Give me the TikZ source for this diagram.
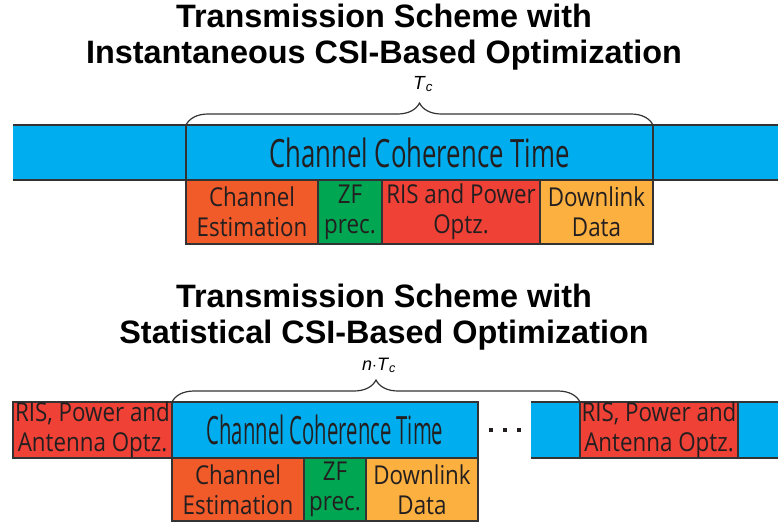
\documentclass[tikz,border=0pt]{standalone}
\usepackage{fontspec}
\setmainfont{Liberation Sans}
\newfontfamily\boxfont[FakeStretch=0.86]{Open Sans}
\newfontfamily\ctfontA[FakeStretch=0.66]{Open Sans}
\newfontfamily\ctfontB[FakeStretch=0.52]{Open Sans}
\usetikzlibrary{positioning,decorations.pathreplacing}
\definecolor{barblue}{HTML}{00AEEF}
\definecolor{estorange}{HTML}{F15A29}
\definecolor{zfgreen}{HTML}{00A651}
\definecolor{optred}{HTML}{EF4136}
\definecolor{dlyellow}{HTML}{FBB040}
\definecolor{txtgray}{HTML}{231F20}
\definecolor{edgegray}{HTML}{333333}

\begin{document}
\begin{tikzpicture}[x=1pt,y=-1pt,
  tbox/.style={draw=edgegray,line width=1.2pt,inner sep=0pt,outer sep=0pt,anchor=north west,
    align=center,text=txtgray,font=\boxfont\fontsize{26}{30}\selectfont},
  title/.style={anchor=north,align=center,inner sep=0pt,font=\bfseries\fontsize{32.4}{36}\selectfont},
  tcbrace/.style={draw=edgegray,line width=1.2pt,decorate,decoration={brace,amplitude=22pt}},
  bar/.style={draw=edgegray,line width=1.2pt}]
\useasboundingbox (0,0) rectangle (778,523);

% instantaneous CSI
\node[title] (t1) at (384,4) {Transmission Scheme with\\Instantaneous CSI-Based Optimization};
\fill[barblue] (13,125) rectangle (778,180);
\draw[bar] (13,125) -- (778,125) (13,180) -- (778,180);
\node[tbox,fill=barblue,minimum width=467,minimum height=55,font=\ctfontA\fontsize{39}{40}\selectfont] (ct1) at (186,125) {Channel Coherence Time};
\node[tbox,fill=estorange,minimum width=132,minimum height=64] (ce1) at (ct1.south west) {Channel\\Estimation};
\node[tbox,fill=zfgreen,minimum width=64,minimum height=64] (zf1) at (ce1.north east) {ZF\\prec.};
\node[tbox,fill=optred,minimum width=158,minimum height=64] (ris1) at (zf1.north east) {RIS and Power\\Optz.};
\node[tbox,fill=dlyellow,minimum width=113,minimum height=64] (dl1) at (ris1.north east) {Downlink\\Data};
\draw[tcbrace] (ct1.north west) -- (ct1.north east);
\node[anchor=base west,inner sep=0pt,font=\fontsize{19}{22}\selectfont] (tc1) at (413,89) {\textit{T}\textsubscript{\textit{c}}};

% statistical CSI
\node[title] (t2) at (384,284) {Transmission Scheme with\\Statistical CSI-Based Optimization};
\node[tbox,fill=optred,minimum width=159,minimum height=56] (rp1) at (13,402) {RIS, Power and\\Antenna Optz.};
\node[tbox,fill=barblue,minimum width=306,minimum height=56,font=\ctfontB\fontsize{39}{40}\selectfont] (ct2) at (rp1.north east) {Channel Coherence Time};
\node[tbox,fill=estorange,minimum width=132,minimum height=63] (ce2) at (ct2.south west) {Channel\\Estimation};
\node[tbox,fill=zfgreen,minimum width=62,minimum height=63] (zf2) at (ce2.north east) {ZF\\prec.};
\node[tbox,fill=dlyellow,minimum width=112,minimum height=63] (dl2) at (zf2.north east) {Downlink\\Data};
\foreach \x in {491,505,519} \fill[txtgray] (\x-2,428) rectangle (\x+2,432);
\fill[barblue] (531,402) rectangle (778,458);
\draw[bar] (531,402) -- (778,402) (531,458) -- (778,458);
\node[tbox,fill=optred,minimum width=158,minimum height=56] (rp2) at (580,402) {RIS, Power and\\Antenna Optz.};
\draw[tcbrace] (ct2.north west) -- (rp2.north west);
\node[anchor=base west,inner sep=0pt,font=\fontsize{18}{21}\selectfont] (tc2) at (362,370) {\textit{n}$\cdot$\textit{T}\textsubscript{\textit{c}}};
\end{tikzpicture}
\end{document}
